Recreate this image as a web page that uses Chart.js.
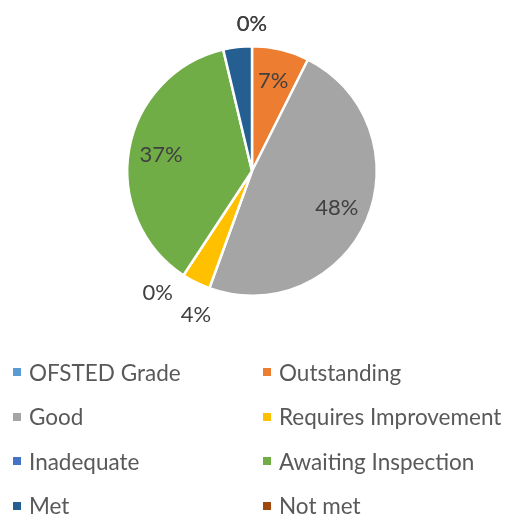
<!DOCTYPE html>
<html>
<head>
<meta charset="utf-8">
<script src="https://cdn.jsdelivr.net/npm/chart.js@4/dist/chart.umd.min.js"></script>
<style>
  html, body { margin: 0; padding: 0; background: #fff; }
  #wrap { position: relative; width: 507px; height: 515px; }
  #c { position: absolute; left: 0; top: 0; }
  #legend {
    position: absolute; left: 13px; top: 350px;
    display: grid; grid-template-columns: 250px 250px; grid-auto-rows: 44.5px;
    font-family: Lato, "Open Sans", sans-serif; font-size: 22.5px; color: #595959;
  }
  .item { display: flex; align-items: center; white-space: nowrap; }
  .box { width: 8px; height: 8px; margin-right: 8px; flex: none; }
</style>
</head>
<body>
<div id="wrap">
  <canvas id="c" width="507" height="515"></canvas>
  <div id="legend"></div>
</div>
<script>
const categories = ["OFSTED Grade", "Outstanding", "Good", "Requires Improvement", "Inadequate", "Awaiting Inspection", "Met", "Not met"];
const values = [0, 2, 13, 1, 0, 10, 1, 0];
const colors = ["#5B9BD5", "#ED7D31", "#A5A5A5", "#FFC000", "#4472C4", "#70AD47", "#255E91", "#9E480E"];
const hiddenLabels = ["Met"];

const total = values.reduce((a, b) => a + b, 0);

const labelPlugin = {
  id: 'sliceLabels',
  afterDatasetsDraw(chart) {
    const ctx = chart.ctx;
    const meta = chart.getDatasetMeta(0);
    ctx.save();
    ctx.font = '22px Lato, "Open Sans", sans-serif';
    ctx.fillStyle = '#404040';
    ctx.textAlign = 'center';
    ctx.textBaseline = 'middle';
    const outside = [];
    meta.data.forEach((arc, i) => {
      if (hiddenLabels.includes(categories[i])) return;
      const p = arc.getProps(['x', 'y', 'startAngle', 'endAngle', 'outerRadius'], true);
      const pct = Math.round(values[i] / total * 100);
      const text = pct + '%';
      const mid = (p.startAngle + p.endAngle) / 2;
      if (pct >= 5) {
        const r = p.outerRadius * 0.74;
        ctx.fillText(text, p.x + Math.cos(mid) * r, p.y + Math.sin(mid) * r);
      } else {
        outside.push({ text, a: mid, p });
      }
    });
    // spread colliding outside labels
    outside.sort((u, v) => u.a - v.a);
    const minGap = 0.29;
    for (let k = 1; k < outside.length; k++) {
      const g = outside[k].a - outside[k - 1].a;
      if (g > 0.001 && g < minGap) {
        const m = (outside[k].a + outside[k - 1].a) / 2;
        outside[k - 1].a = m - minGap / 2;
        outside[k].a = m + minGap / 2;
      }
    }
    outside.forEach(o => {
      const w = ctx.measureText(o.text).width;
      const c = Math.cos(o.a), s = Math.sin(o.a);
      const h = s > 0 ? 36 : 20;
      const r = o.p.outerRadius + 12;
      ctx.fillText(o.text, o.p.x + c * r + c * w / 2, o.p.y + s * r + s * h / 2);
    });
    ctx.restore();
  }
};

new Chart(document.getElementById('c'), {
  type: 'pie',
  data: {
    labels: categories,
    datasets: [{
      data: values,
      backgroundColor: colors,
      borderColor: '#ffffff',
      borderWidth: 2.5
    }]
  },
  options: {
    responsive: false,
    animation: false,
    layout: { padding: { left: 126, right: 129, top: 45, bottom: 218 } },
    plugins: { legend: { display: false }, tooltip: { enabled: false } }
  },
  plugins: [labelPlugin]
});

const legend = document.getElementById('legend');
categories.forEach((name, i) => {
  const item = document.createElement('div');
  item.className = 'item';
  const box = document.createElement('span');
  box.className = 'box';
  box.style.background = colors[i];
  const txt = document.createElement('span');
  txt.textContent = name;
  item.appendChild(box);
  item.appendChild(txt);
  legend.appendChild(item);
});
</script>
</body>
</html>
